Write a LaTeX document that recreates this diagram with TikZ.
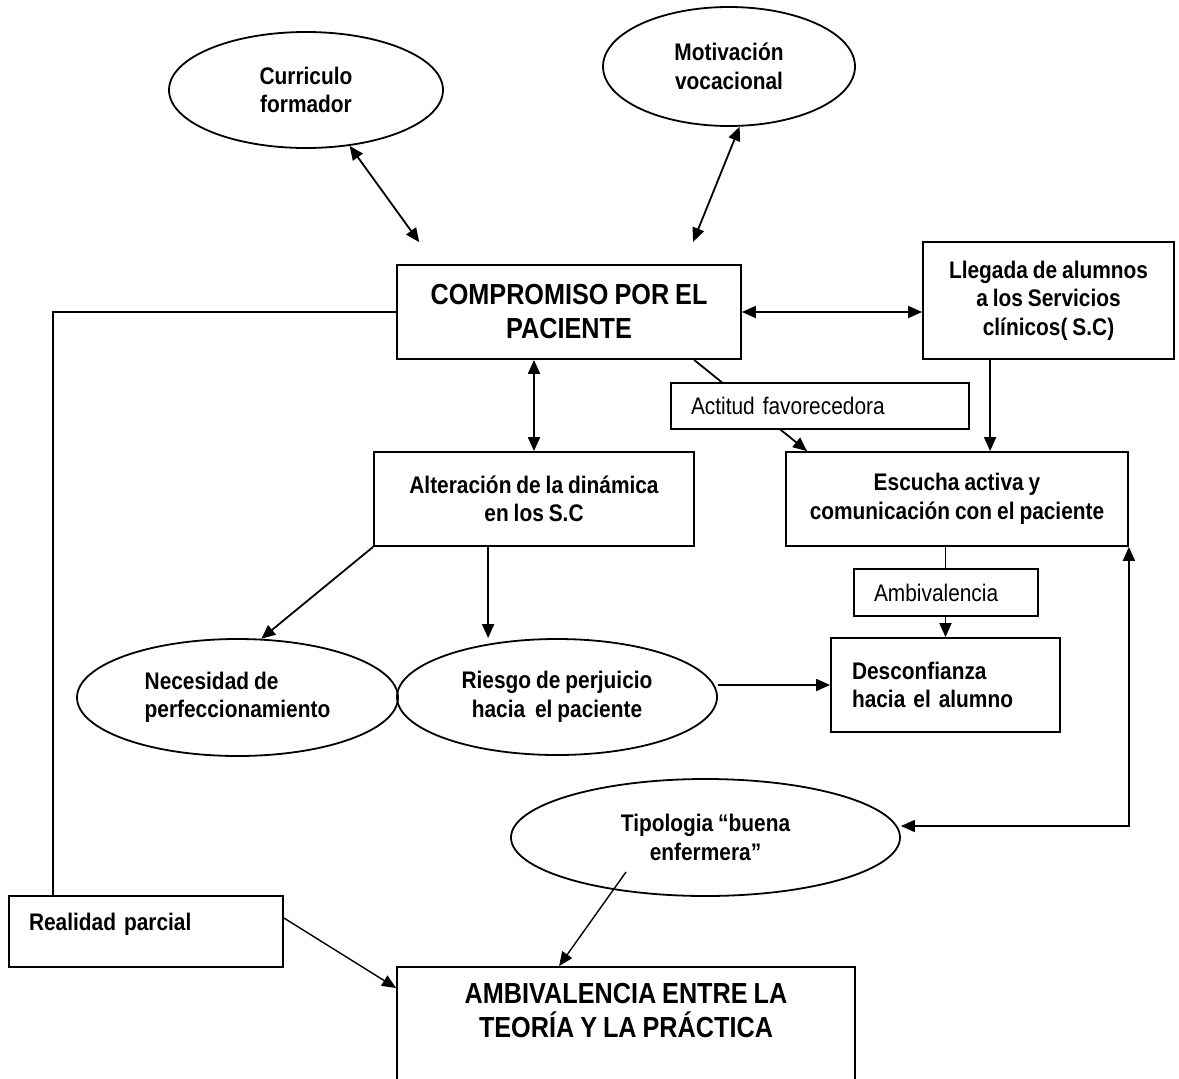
\documentclass[tikz,border=0pt]{standalone}
\usepackage{fontspec}
\setmainfont{Liberation Sans}[FakeStretch=0.87,WordSpace=0.85]
\usetikzlibrary{shapes.geometric,arrows.meta,calc}
\newcommand\fsm{\fontsize{24}{28.5}\selectfont}
\newcommand\flg{\fontsize{29}{34}\selectfont}
\begin{document}
\begin{tikzpicture}[x=1pt,y=-1pt,line width=1.8pt,
  tip/.style={-{Triangle[length=14pt,width=12pt]}},
  dtip/.style={{Triangle[length=14pt,width=12pt]}-{Triangle[length=14pt,width=12pt]}},
  oval/.style={draw,ellipse,inner sep=0pt,font=\fsm\bfseries,align=center},
  boxb/.style={draw,rectangle,inner sep=0pt,font=\fsm\bfseries,align=center},
  boxbig/.style={draw,rectangle,inner sep=0pt,font=\flg\bfseries,align=center},
  lbl/.style={draw,rectangle,fill=white,inner ysep=0pt,inner xsep=20pt,font=\fsm,align=left}
]
\useasboundingbox (0,0) rectangle (1179,1079);
\clip (0,0) rectangle (1179,1079);
\fill[white] (0,0) rectangle (1179,1079);

% nodes
\node[oval,minimum width=274pt,minimum height=116pt] (curr) at (306,90) {Curriculo\\formador};
\node[oval,minimum width=252pt,minimum height=119pt] (motiv) at (729,66.5) {Motivación\\vocacional};
\node[boxbig,minimum width=344pt,minimum height=94pt] (comp) at (569,312) {COMPROMISO POR EL\\PACIENTE};
\node[boxb,minimum width=251pt,minimum height=117pt] (lleg) at (1048.5,300.5) {Llegada de alumnos\\a los Servicios\\clínicos( S.C)};
\node[boxb,minimum width=320pt,minimum height=94pt] (alter) at (534,499) {Alteración de la dinámica\\en los S.C};
\node[boxb,minimum width=342pt,minimum height=94pt] (escucha) at (957,499) {Escucha activa y\\comunicación con el paciente};
\node[boxb,align=left,inner xsep=21pt,text width=187pt,minimum width=229pt,minimum height=94pt] (desconf) at (945.5,685) {Desconfianza\\hacia el alumno};
\node[oval,align=left,minimum width=321pt,minimum height=117pt] (neces) at (237.5,697.5) {Necesidad de\\perfeccionamiento};
\node[oval,minimum width=320pt,minimum height=116pt] (riesgo) at (557,697) {Riesgo de perjuicio\\hacia\ \ el paciente};
\node[oval,minimum width=389pt,minimum height=117pt] (tipol) at (705.5,837.5) {Tipologia “buena\\enfermera”};
\node[draw,rectangle,inner ysep=0pt,inner xsep=20pt,text width=234pt,minimum width=274pt,minimum height=71pt,font=\fsm\bfseries,align=left,text height=17pt,text depth=19pt] (realidad) at (146,931.5) {Realidad parcial};
\node[draw,rectangle,inner sep=0pt,minimum width=458pt,minimum height=140pt,anchor=north] (ambbox) at (626,966) {};
\node[font=\flg\bfseries,align=center,inner sep=0pt] (ambtxt) at (626,1011) {AMBIVALENCIA ENTRE LA\\TEORÍA Y LA PRÁCTICA};

% helper coordinates
\coordinate (a1) at ([xshift=115pt]alter.south west);
\coordinate (l1) at ([xshift=68pt]lleg.south west);

% connectors
\draw[dtip,shorten >=27pt] (curr.-52) -- ([xshift=39pt]comp.north west);
\draw[dtip,shorten >=24pt] (motiv.-80) -- ([xshift=288pt]comp.north west);
\draw[dtip] (comp.east) -- (comp.east -| lleg.west);
\draw[dtip] (alter.north |- comp.south) -- (alter.north);
\draw[tip] (l1) -- (l1 |- escucha.north);
\draw[tip] ([xshift=298pt]comp.south west) -- ([xshift=22pt]escucha.north west);
\draw[tip] (desconf.north |- escucha.south) -- (desconf.north);
\draw[tip] (alter.south west) -- (neces.68);
\draw[tip] (a1) -- (a1 |- riesgo.north);
\draw[tip] (riesgo.east |- desconf.west) -- (desconf.west);
\draw[dtip] (escucha.south east) |- ([yshift=11.5pt]tipol.east);
\draw[tip,line width=1.4pt] ([xshift=-79.5pt,yshift=-34.5pt]tipol.center) -- ([xshift=163pt]ambbox.north west);
\draw[tip,line width=1.4pt] ([yshift=13.5pt]realidad.east) -- ([yshift=-22pt]ambbox.north west);
\draw (comp.west) -| ([xshift=45pt]realidad.north west);

% label boxes on connectors
\node[lbl,text width=258pt,minimum width=298pt,minimum height=46pt] (actitud) at (820,406) {Actitud favorecedora};
\node[lbl,text width=144pt,minimum width=184pt,minimum height=47pt] (ambiv) at (946,592.5) {Ambivalencia};
\end{tikzpicture}
\end{document}
